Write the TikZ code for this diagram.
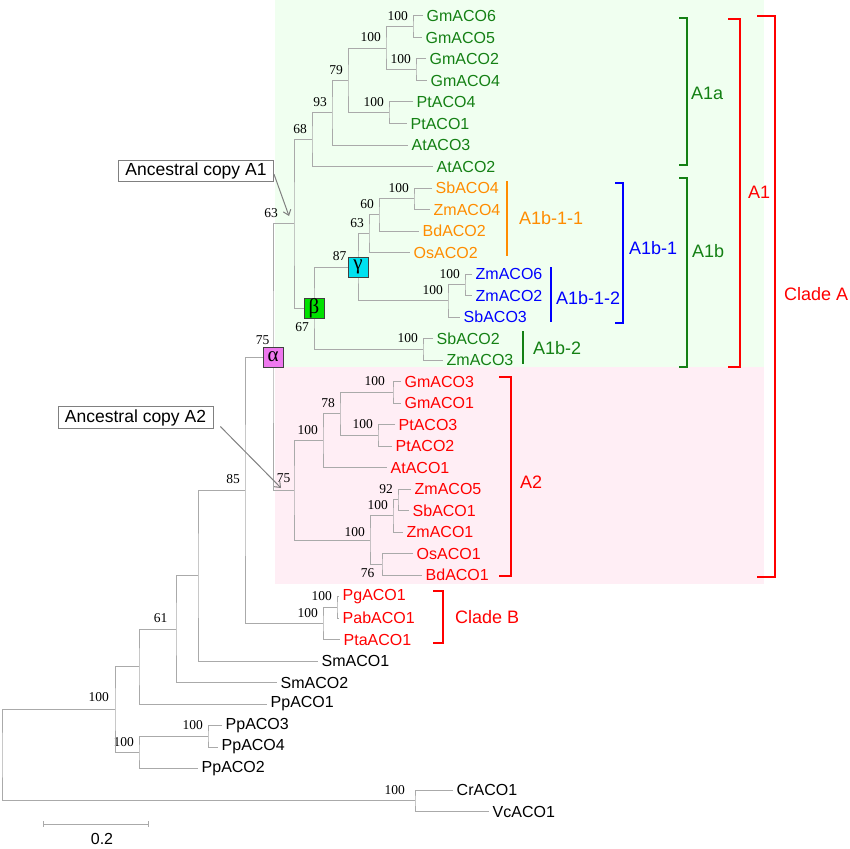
\documentclass[tikz,border=0pt]{standalone}
\usepackage{fontspec}
\setmainfont{Liberation Sans}
\newfontfamily\bootfont{Liberation Serif}
\usetikzlibrary{calc,arrows.meta}
\definecolor{cgreen}{RGB}{20,128,20}
\definecolor{corange}{RGB}{255,140,0}
\definecolor{cblue}{RGB}{0,0,255}
\definecolor{cred}{RGB}{255,0,0}
\definecolor{bggreen}{RGB}{240,255,240}
\definecolor{bgpink}{RGB}{255,238,245}
\definecolor{treegray}{RGB}{170,170,170}
\definecolor{calpha}{RGB}{238,120,238}
\definecolor{cbeta}{RGB}{0,225,0}
\definecolor{cgamma}{RGB}{0,225,240}
% clade: [label shift]{name}{x}{child1}{child2}{support}
\newcommand\clade[6][]{%
\path let \p1=($(#4)!.5!(#5)$) in (#3pt,\y1) coordinate (#2);
\draw[branch] (#4) -| (#2) |- (#5);
\node[boot,#1] at (#2) {#6};}

\begin{document}
\begin{tikzpicture}[x=1pt,y=-1pt,
branch/.style={draw=treegray,line width=1pt},
leaf/.style={anchor=west,inner xsep=3.5pt,inner ysep=1pt,font=\fontsize{16}{18}\selectfont},
boot/.style={anchor=south east,inner sep=2pt,xshift=-3pt,yshift=4pt,font=\bootfont\fontsize{13.5}{15}\selectfont},
greek/.style={draw=black!75,line width=0.8pt,minimum size=20pt,inner sep=0pt,font=\bootfont\fontsize{21}{21}\selectfont},
anc/.style={draw=gray,fill=white,line width=0.8pt,inner xsep=7pt,inner ysep=2.5pt,font=\fontsize{17.5}{19}\selectfont},
pointer/.style={draw=gray,line width=1pt,-{Straight Barb[length=5pt,width=8pt]}},
bracket/.style={line width=2.5pt,miter limit=4},
grp/.style={anchor=west,inner sep=0pt,font=\fontsize{18}{20}\selectfont}]
\useasboundingbox (0,0) rectangle (850,848);
\fill[bggreen] (275,0) rectangle (764,367);
\fill[bgpink] (275,367) rectangle (764,584);
% leaves
\foreach \nm/\xx/\col [count=\i from 0] in {GmACO6/423/cgreen,GmACO5/422/cgreen,
GmACO2/426/cgreen,GmACO4/427/cgreen,PtACO4/413/cgreen,PtACO1/407/cgreen,
AtACO3/408/cgreen,AtACO2/433/cgreen,SbACO4/432/corange,ZmACO4/430/corange,
BdACO2/419/corange,OsACO2/410/corange,ZmACO6/472/cblue,ZmACO2/472/cblue,
SbACO3/460/cblue,SbACO2/433/cgreen,ZmACO3/443/cgreen,GmACO3/401/cred,
GmACO1/401/cred,PtACO3/395/cred,PtACO2/392/cred,AtACO1/387/cred,
ZmACO5/411/cred,SbACO1/409/cred,ZmACO1/403/cred,OsACO1/413/cred,
BdACO1/422/cred,PgACO1/339/cred,PabACO1/339/cred,PtaACO1/340/cred,
SmACO1/318/black,SmACO2/277/black,PpACO1/267/black,PpACO3/222/black,
PpACO4/218/black,PpACO2/198/black,CrACO1/453/black,VcACO1/489/black}
\node[leaf,text=\col] (\nm) at (\xx,{16+21.5*\i}) {\nm};
% clade A1
\clade{n1}{413}{GmACO6}{GmACO5}{100}
\clade{n2}{416}{GmACO2}{GmACO4}{100}
\clade{n3}{386}{n1}{n2}{100}
\clade{n4}{389}{PtACO4}{PtACO1}{100}
\clade{n5}{348}{n3}{n4}{79}
\clade{n6}{332}{n5}{AtACO3}{93}
\clade{n7}{312}{n6}{AtACO2}{68}
\clade{b1}{414}{SbACO4}{ZmACO4}{100}
\clade{b2}{379}{b1}{BdACO2}{60}
\clade{b3}{369}{b2}{OsACO2}{63}
\clade{c1}{465}{ZmACO6}{ZmACO2}{100}
\clade{c2}{448}{c1}{SbACO3}{100}
\clade[xshift=-6.5pt]{gam}{358}{b3}{c2}{87}
\clade{d1}{423}{SbACO2}{ZmACO3}{100}
\clade[anchor=north east,yshift=-16pt]{bet}{314}{gam}{d1}{67}
\clade[xshift=-11pt]{aone}{294}{n7}{bet}{63}
% clade A2
\clade[xshift=-3pt]{e1}{393}{GmACO3}{GmACO1}{100}
\clade{e2}{378}{PtACO3}{PtACO2}{100}
\clade{e3}{340}{e1}{e2}{78}
\clade{e4}{323}{e3}{AtACO1}{100}
\clade{f1}{398}{ZmACO5}{SbACO1}{92}
\clade{f2}{393}{f1}{ZmACO1}{100}
\clade[anchor=north east,xshift=-2.5pt,yshift=-6.5pt]{f3}{382}{OsACO1}{BdACO1}{76}
\clade[yshift=-3pt]{f4}{370}{f2}{f3}{100}
\clade[xshift=1.5pt,yshift=2pt]{atwo}{294}{e4}{f4}{75}
\clade[xshift=1.5pt,yshift=6pt]{alp}{273}{aone}{atwo}{75}
% clade B and the rest
\clade{g1}{337}{PgACO1}{PabACO1}{100}
\clade{g2}{323}{g1}{PtaACO1}{100}
\clade{h85}{245}{alp}{g2}{85}
\clade{h1}{198}{h85}{SmACO1}{}
\clade[xshift=-3.5pt]{h61}{176}{h1}{SmACO2}{61}
\clade{h2}{139}{h61}{PpACO1}{}
\clade{p1}{208}{PpACO3}{PpACO4}{100}
\clade{p2}{139}{p1}{PpACO2}{100}
\clade[xshift=-1pt,yshift=2pt]{h100}{115}{h2}{p2}{100}
\clade[xshift=-5pt]{q1}{415}{CrACO1}{VcACO1}{100}
\clade{root}{2}{h100}{q1}{}
% duplication boxes
\node[greek,fill=calpha] (alpha) at (alp) {α};
\node[greek,fill=cbeta] (beta) at (bet) {β};
\node[greek,fill=cgamma] (gamma) at (gam) {γ};
% ancestral copies
\node[anc] (anc1) at (196,171) {Ancestral copy A1};
\node[anc] (anc2) at (135.5,417.5) {Ancestral copy A2};
\coordinate (tipa) at (289,216);
\coordinate (tipb) at (281,488);
\draw[pointer] ([yshift=-3pt]anc1.east) -- (tipa);
\draw[pointer] ([xshift=7pt,yshift=2pt]anc2.south east) -- (tipb);
% group brackets
\foreach \col/\xx/\ya/\yb/\hk in {cgreen/687/18/165/8,cgreen/687/178/367/8,
cred/740/19/367/12,cred/775/16/577/18,cblue/623/183/323/8,
cred/511/377/576/12,cred/443/591/643/10}
\draw[bracket,draw=\col] (\xx-\hk,\ya) -| (\xx,\yb) -- (\xx-\hk,\yb);
\draw[bracket,draw=corange,line width=2pt] (507,181) -- (507,256);
\draw[bracket,draw=cblue,line width=2pt] (551,267) -- (551,322);
\draw[bracket,draw=cgreen,line width=2pt] (523,331) -- (523,364);
\node[grp,text=cgreen] (la1a) at (691,93) {A1a};
\node[grp,text=cgreen] (la1b) at (692,251) {A1b};
\node[grp,text=cred] (la1) at (748,192) {A1};
\node[grp,text=cred] (lca) at (784,294) {Clade A};
\node[grp,text=cblue] (la1b1) at (629,248) {A1b-1};
\node[grp,text=corange] (la1b11) at (519,218) {A1b-1-1};
\node[grp,text=cblue] (la1b12) at (556,298) {A1b-1-2};
\node[grp,text=cgreen] (la1b2) at (533,348) {A1b-2};
\node[grp,text=cred] (la2) at (520,482) {A2};
\node[grp,text=cred] (lcb) at (455,617) {Clade B};
% scale bar
\coordinate (sbl) at (43,824);
\coordinate (sbr) at (148,824);
\draw[branch] (sbl) -- (sbr) ([yshift=3pt]sbl) -- ([yshift=-3pt]sbl)
([yshift=3pt]sbr) -- ([yshift=-3pt]sbr);
\node[inner sep=0pt,font=\fontsize{16}{18}\selectfont] (sblab) at (102,839) {0.2};
\end{tikzpicture}
\end{document}
